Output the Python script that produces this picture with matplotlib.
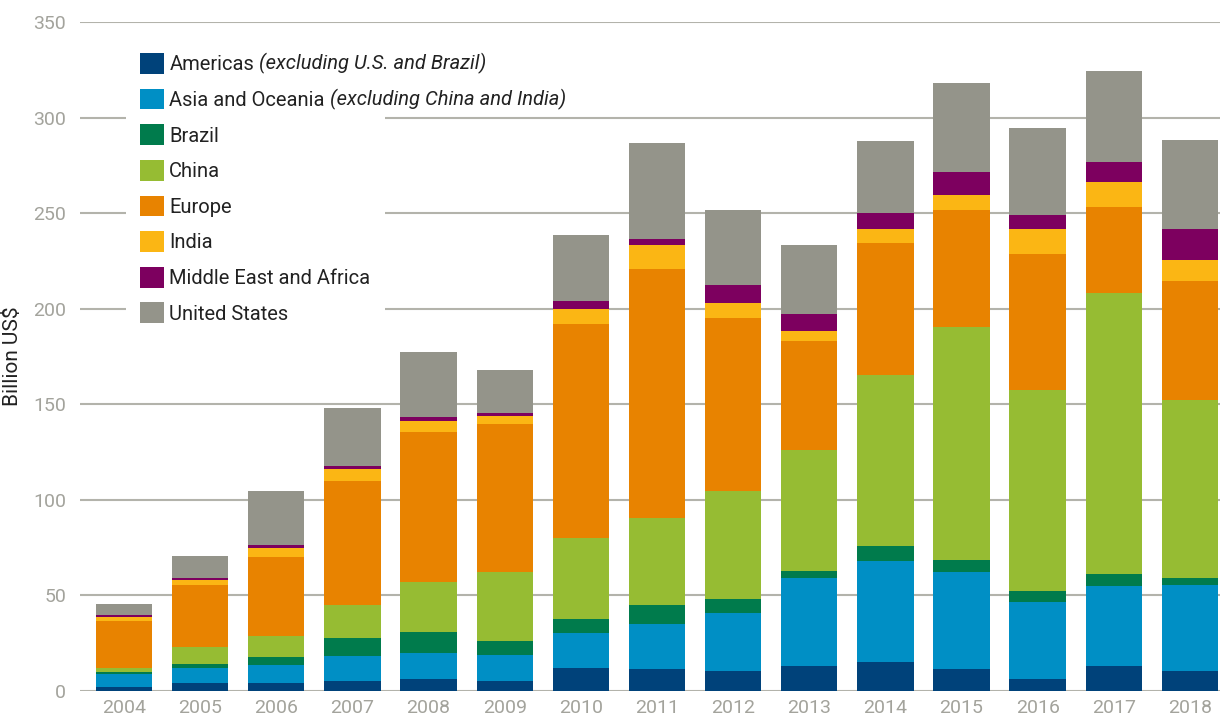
import matplotlib
matplotlib.use("Agg")
import matplotlib.pyplot as plt
from matplotlib.patches import Patch
import numpy as np

# ----------------------------
# Data (billion US$)
# ----------------------------
years = ["2004", "2005", "2006", "2007", "2008", "2009", "2010", "2011",
         "2012", "2013", "2014", "2015", "2016", "2017", "2018"]

americas = [2.1, 4.0, 4.0, 5.1, 6.1, 5.2, 12.2, 11.6, 10.4, 13.1, 15.2, 11.4, 6.4, 13.2, 10.6]
asia_oceania = [6.6, 7.9, 9.4, 13.0, 13.6, 13.7, 18.2, 23.4, 30.4, 46.1, 52.8, 50.9, 40.3, 41.8, 44.9]
brazil = [1.1, 2.1, 4.2, 9.4, 11.0, 7.4, 7.3, 10.1, 7.3, 3.6, 7.9, 6.1, 5.7, 6.2, 3.7]
china = [2.1, 9.1, 11.0, 17.3, 26.1, 36.0, 42.3, 45.4, 56.7, 63.3, 89.2, 122.2, 105.2, 147.0, 93.1]
europe = [24.5, 32.3, 41.3, 64.9, 78.5, 77.3, 112.0, 130.1, 90.3, 57.0, 69.1, 60.9, 70.8, 44.9, 62.1]
india = [2.5, 2.6, 4.7, 6.2, 5.7, 4.3, 7.7, 12.6, 7.7, 5.2, 7.4, 8.0, 13.2, 13.0, 11.0]
mid_east_africa = [1.0, 1.0, 1.6, 1.6, 2.1, 1.5, 4.3, 3.1, 9.5, 8.9, 8.4, 11.8, 7.3, 10.5, 16.2]
united_states = [5.4, 11.5, 28.2, 30.3, 34.2, 22.4, 34.4, 50.2, 39.6, 36.0, 37.6, 46.7, 45.6, 48.0, 46.5]

series_names = ["Americas", "Asia and Oceania", "Brazil", "China", "Europe",
                "India", "Middle East and Africa", "United States"]
# italic notes that follow some legend names
name_notes = ["(excluding U.S. and Brazil)", "(excluding China and India)",
              "", "", "", "", "", ""]
series_values = [americas, asia_oceania, brazil, china, europe, india,
                 mid_east_africa, united_states]
colors = ["#00427a", "#008fc5", "#007b4c", "#96bc33",
          "#e88300", "#fbb614", "#7d005f", "#94948a"]

# ----------------------------
# Style
# ----------------------------
plt.rcParams["font.family"] = ["Roboto", "DejaVu Sans"]

tick_gray = "#a3a39c"
grid_gray = "#b3b3ab"
text_dark = "#222222"

fig = plt.figure(figsize=(12.2, 7.15), dpi=100)
ax = fig.add_axes([80 / 1220, 24 / 715, 1 - 80 / 1220, (691 - 22) / 715])

x = np.arange(len(years))
bottom = np.zeros(len(years))
for vals, col in zip(series_values, colors):
    ax.bar(x, vals, bottom=bottom, width=0.74, color=col, linewidth=0, zorder=3)
    bottom += np.array(vals)

ax.set_xlim(-0.578, 14.395)
ax.set_ylim(0, 350)
ax.set_yticks(range(0, 351, 50))
ax.set_xticks(x)
ax.set_xticklabels(years)

ax.grid(axis="y", color=grid_gray, linewidth=1.5, zorder=0)
ax.set_axisbelow(True)
for s in ax.spines.values():
    s.set_visible(False)
ax.tick_params(axis="both", length=0, colors=tick_gray, labelsize=14)
ax.tick_params(axis="y", pad=10)
ax.tick_params(axis="x", pad=6)

ax.set_ylabel(r"Billion US\$", fontsize=15, color=text_dark)
ax.yaxis.set_label_coords(-58 / 1140, 0.5)

handles = [Patch(facecolor=c, edgecolor="none") for c in colors]
leg = ax.legend(handles, series_names, loc="upper left",
                bbox_to_anchor=(116 / 1220, 1 - 29 / 715),
                bbox_transform=fig.transFigure,
                fontsize=14.5, handlelength=1.2, handleheight=1.2,
                handletextpad=0.25, labelspacing=0.72, borderpad=0.7,
                frameon=True, fancybox=False, framealpha=1.0)
leg.get_frame().set_edgecolor("none")
leg.get_frame().set_facecolor("white")
leg.set_zorder(2)
for t, note in zip(leg.get_texts(), name_notes):
    t.set_color(text_dark)
    if note:
        ax.annotate(note, xy=(1, 0), xycoords=t, xytext=(3.5, 0),
                    textcoords="offset points", ha="left", va="bottom",
                    fontsize=14.5, fontstyle="italic", color=text_dark,
                    zorder=4, annotation_clip=False)

fig.savefig("out.png", dpi=100)
